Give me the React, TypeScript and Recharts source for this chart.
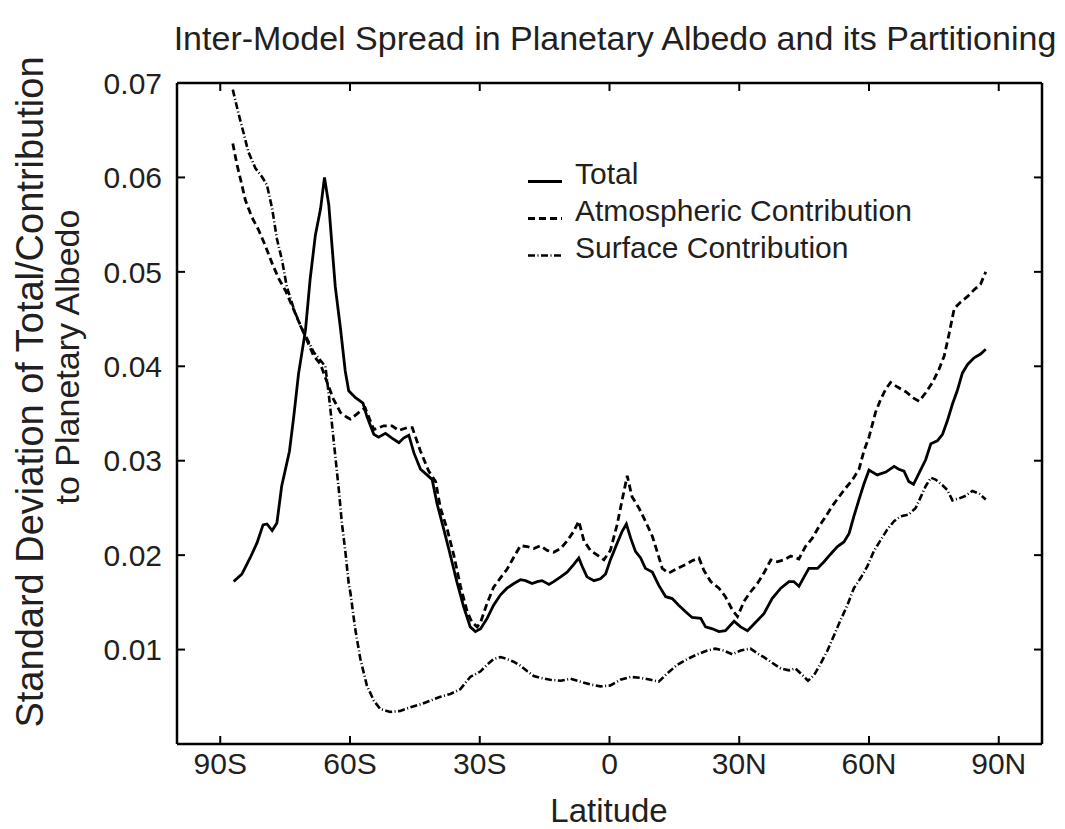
import { LineChart, Line, XAxis, YAxis } from "recharts";

const FONT = '"Liberation Sans", Arial, Helvetica, sans-serif';
const INK = "#231f20";

const xTicks = [-90, -60, -30, 0, 30, 60, 90];
const xTickLabels = ["90S", "60S", "30S", "0", "30N", "60N", "90N"];
const yTicks = [0.01, 0.02, 0.03, 0.04, 0.05, 0.06, 0.07];

// Total
const totalLat = [
  -86.9, -85.0, -83.1, -81.5, -80.1, -79.2, -78.0, -76.9, -75.8, -74.0, -73.0, -71.9, -70.3, -69.2, -68.0,
  -66.8, -65.9, -64.9, -64.2, -63.4, -62.2, -61.1, -60.3, -58.8, -57.0, -56.1, -54.5, -53.4, -51.8, -50.3,
  -48.7, -47.6, -46.4, -45.2, -43.7, -42.2, -41.0, -39.9, -38.3, -36.8, -35.3, -33.7, -32.2, -31.0, -29.8,
  -28.3, -26.8, -25.2, -23.7, -22.1, -20.6, -19.4, -17.9, -16.7, -15.6, -14.0, -12.9, -11.3, -9.8, -8.3,
  -7.1, -6.3, -5.2, -3.6, -2.1, -0.9, 0.2, 1.8, 2.9, 3.9, 4.9, 6.0, 7.2, 8.3, 9.9, 11.4, 13.0, 14.5, 16.0,
  17.6, 19.1, 21.1, 22.2, 23.8, 25.3, 26.8, 28.8, 30.3, 31.9, 33.8, 35.7, 37.6, 39.6, 41.5, 42.6, 43.8,
  45.0, 46.1, 48.1, 49.6, 51.1, 52.7, 54.2, 55.4, 56.5, 57.7, 58.8, 60.0, 61.9, 63.9, 65.8, 66.9, 68.1,
  69.2, 70.3, 71.6, 73.1, 74.3, 75.8, 77.0, 78.1, 79.3, 80.4, 81.6, 82.8, 84.3, 85.8, 87.0,
];
const totalVal = [
  0.0172, 0.018, 0.0197, 0.0213, 0.0232, 0.0233, 0.0226, 0.0234, 0.0273, 0.031, 0.0347, 0.0392, 0.0438, 0.0493, 0.0539,
  0.0567, 0.06, 0.0571, 0.053, 0.0484, 0.044, 0.0395, 0.0374, 0.0367, 0.0361, 0.0347, 0.0328, 0.0325, 0.0329, 0.0324,
  0.0319, 0.0324, 0.0327, 0.0308, 0.0291, 0.0285, 0.028, 0.0255, 0.0227, 0.02, 0.0172, 0.0145, 0.0124, 0.0119, 0.0122,
  0.0133, 0.0147, 0.0158, 0.0165, 0.017, 0.0174, 0.0173, 0.017, 0.0172, 0.0173, 0.0169, 0.0172, 0.0177, 0.0182, 0.019,
  0.0197, 0.0188, 0.0177, 0.0173, 0.0175, 0.018, 0.0195, 0.0213, 0.0225, 0.0233, 0.0218, 0.0204, 0.0197, 0.0186, 0.0182, 0.0168, 0.0156, 0.0154, 0.0147,
  0.014, 0.0134, 0.0133, 0.0124, 0.0122, 0.0119, 0.012, 0.013, 0.0124, 0.012, 0.0129, 0.0138, 0.0154, 0.0165, 0.0172, 0.0172, 0.0167,
  0.0177, 0.0186, 0.0186, 0.0193, 0.0201, 0.0209, 0.0214, 0.0223, 0.0241, 0.0259, 0.0275, 0.029, 0.0285, 0.0288, 0.0294, 0.0291, 0.0289,
  0.0278, 0.0275, 0.0287, 0.0301, 0.0318, 0.0321, 0.0328, 0.0342, 0.036, 0.0374, 0.0393, 0.0402, 0.0409, 0.0413, 0.0418,
];

// Atmospheric contribution
const atmLat = [
  -87.1, -86.2, -85.0, -84.2, -82.7, -81.1, -79.6, -78.0, -76.5, -74.9, -73.4, -71.9, -69.9, -68.4, -66.8,
  -65.3, -63.8, -62.2, -60.7, -59.9, -58.0, -56.5, -54.5, -52.2, -50.3, -48.7, -46.8, -45.6, -43.7, -41.8,
  -40.2, -39.1, -37.5, -36.0, -34.5, -32.9, -31.8, -30.6, -29.8, -28.3, -26.8, -25.2, -23.7, -22.1, -20.6,
  -19.0, -17.5, -16.0, -14.4, -12.9, -11.3, -9.8, -8.3, -7.1, -5.9, -4.4, -2.8, -1.3, 0.2, 1.8, 2.9, 4.1,
  5.2, 6.8, 8.3, 9.9, 11.0, 12.2, 13.7, 15.7, 17.6, 19.1, 20.7, 21.8, 23.4, 25.3, 26.8, 28.4, 29.6, 31.1,
  32.6, 34.2, 35.7, 37.3, 38.8, 40.3, 41.9, 43.8, 45.3, 46.9, 48.4, 50.0, 51.5, 53.1, 54.6, 56.2, 57.7,
  58.8, 60.0, 61.5, 62.7, 63.9, 65.0, 66.6, 68.5, 70.4, 71.6, 73.1, 74.7, 76.2, 77.4, 78.5, 79.7, 81.2,
  82.8, 84.3, 85.8, 87.0,
];
const atmVal = [
  0.0636, 0.0615, 0.0592, 0.0576, 0.0558, 0.0544, 0.0528, 0.0509, 0.0493, 0.048, 0.0464, 0.0448, 0.0427, 0.0411, 0.0402,
  0.0383, 0.0365, 0.0351, 0.0346, 0.0344, 0.0351, 0.0356, 0.0333, 0.0337, 0.0337, 0.0332, 0.0335, 0.0335, 0.031, 0.0289,
  0.0278, 0.025, 0.0227, 0.02, 0.0168, 0.014, 0.0129, 0.0124, 0.0129, 0.0149, 0.0166, 0.0176, 0.0185, 0.0198, 0.021,
  0.0209, 0.0207, 0.021, 0.0205, 0.0203, 0.0207, 0.0215, 0.0225, 0.0236, 0.0215, 0.0205, 0.02, 0.0195, 0.0205, 0.0233, 0.0258, 0.0284,
  0.0262, 0.025, 0.0236, 0.022, 0.0204, 0.0186, 0.0181, 0.0186, 0.019, 0.0194, 0.0197, 0.0184, 0.0172, 0.0165, 0.0156, 0.0142, 0.0135, 0.0151,
  0.0161, 0.017, 0.0181, 0.0195, 0.0193, 0.0195, 0.0199, 0.0196, 0.0209, 0.0218, 0.023, 0.0241, 0.0252, 0.0262, 0.0271, 0.028, 0.0291,
  0.031, 0.0325, 0.0351, 0.0365, 0.0376, 0.0383, 0.0378, 0.0373, 0.0366, 0.0363, 0.0372, 0.0383, 0.0397, 0.0411, 0.0434, 0.0461, 0.0468,
  0.0474, 0.0481, 0.0487, 0.05,
];

// Surface contribution
const sfcLat = [
  -87.1, -85.8, -84.6, -83.5, -81.9, -80.4, -79.2, -78.0, -76.9, -75.7, -74.6, -73.0, -71.5, -69.9, -68.4,
  -66.8, -65.7, -64.9, -64.2, -63.4, -62.6, -61.9, -61.1, -60.3, -59.9, -58.8, -57.6, -56.1, -54.5, -53.0,
  -50.7, -48.4, -46.0, -43.7, -41.4, -39.1, -36.8, -34.5, -32.2, -29.8, -28.3, -26.8, -25.2, -23.7, -22.1,
  -20.6, -19.0, -17.5, -16.0, -13.7, -11.3, -9.0, -6.7, -4.4, -2.1, 0.2, 2.5, 4.9, 7.2, 9.5, 11.4, 13.4,
  15.7, 18.0, 20.3, 22.6, 24.5, 26.4, 28.4, 30.3, 32.6, 34.2, 35.7, 37.6, 39.6, 41.5, 43.0, 44.6, 45.9,
  47.3, 48.8, 50.4, 51.9, 53.4, 55.0, 56.5, 58.1, 59.6, 61.1, 62.7, 64.2, 65.8, 67.3, 69.2, 70.8, 72.0,
  73.1, 74.3, 75.4, 77.0, 78.1, 79.3, 80.8, 82.4, 83.9, 85.5, 87.0,
];
const sfcVal = [
  0.0693, 0.0668, 0.0647, 0.0627, 0.061, 0.0601, 0.0592, 0.0567, 0.0535, 0.0512, 0.0484, 0.0461, 0.0443, 0.0429, 0.0415,
  0.0406, 0.04, 0.037, 0.034, 0.0305, 0.027, 0.0235, 0.0205, 0.017, 0.016, 0.0122, 0.009, 0.0062, 0.0046, 0.0037,
  0.0034, 0.0035, 0.0039, 0.0042, 0.0046, 0.005, 0.0053, 0.0058, 0.0071, 0.0077, 0.0084, 0.009, 0.0092, 0.009, 0.0087,
  0.0083, 0.0077, 0.0072, 0.007, 0.0068, 0.0067, 0.0069, 0.0066, 0.0063, 0.0061, 0.0062, 0.0068, 0.0071, 0.007, 0.0068, 0.0066, 0.0075,
  0.0084, 0.009, 0.0095, 0.0099, 0.0101, 0.0099, 0.0095, 0.0099, 0.0101, 0.0096, 0.0092, 0.0086, 0.008, 0.0078, 0.008, 0.0073, 0.0067,
  0.0073, 0.0085, 0.0099, 0.0115, 0.0131, 0.0147, 0.0165, 0.0176, 0.0188, 0.0204, 0.0216, 0.0227, 0.0236, 0.0241, 0.0243, 0.025, 0.0262,
  0.0273, 0.0282, 0.028, 0.0274, 0.0269, 0.0258, 0.026, 0.0263, 0.0268, 0.0265, 0.0259,
];

const toPoints = (lats: number[], vals: number[]) => lats.map((lat, i) => ({ lat, v: vals[i] }));

const series = [
  { name: "Total", data: toPoints(totalLat, totalVal), dash: undefined as string | undefined, width: 2.8 },
  { name: "Atmospheric Contribution", data: toPoints(atmLat, atmVal), dash: "7 4", width: 2.8 },
  { name: "Surface Contribution", data: toPoints(sfcLat, sfcVal), dash: "7 2.5 1 2.5", width: 2.6 },
];

const NoTick = () => <g />;

// title sits above the top frame
const Title = () => (
  <text x={615} y={50} textAnchor="middle" fontSize={34} fontFamily={FONT} fill={INK}>
    Inter-Model Spread in Planetary Albedo and its Partitioning
  </text>
);

const XTitle = () => (
  <text x={609} y={822} textAnchor="middle" fontSize={33} fontFamily={FONT} fill={INK}>
    Latitude
  </text>
);

const YTitle = () => (
  <g fontFamily={FONT} fill={INK} textAnchor="middle">
    <text transform="translate(43,392) rotate(-90)" fontSize={38}>
      Standard Deviation of Total/Contribution
    </text>
    <text transform="translate(79,357) rotate(-90)" fontSize={34}>
      to Planetary Albedo
    </text>
  </g>
);

// legend drawn inside the plot, upper middle
const LegendBox = () => (
  <g>
    {series.map((s, i) => {
      const base = 184 + i * 37;
      return (
        <g key={s.name}>
          <line x1={528} x2={562} y1={base - 2.5} y2={base - 2.5} stroke="#000" strokeWidth={s.width} strokeDasharray={s.dash} />
          <text x={575} y={base} fontSize={30} fontFamily={FONT} fill={INK}>
            {s.name}
          </text>
        </g>
      );
    })}
  </g>
);

export default function App() {
  return (
    <div style={{ position: "absolute", left: 0, top: 0, width: 1065, height: 829, background: "#fff" }}>
      <LineChart width={1065} height={829} margin={{ top: 82, right: 22, bottom: 0, left: 0 }}>
        <XAxis
          dataKey="lat"
          type="number"
          domain={[-100, 100]}
          ticks={xTicks}
          allowDataOverflow
          height={85}
          tickFormatter={(v: number) => xTickLabels[xTicks.indexOf(v)] ?? ""}
          tick={{ fontSize: 30, fontFamily: FONT, fill: INK }}
          tickSize={-8}
          tickMargin={17}
          axisLine={{ stroke: "#000", strokeWidth: 2.5 }}
          tickLine={{ stroke: "#000", strokeWidth: 2 }}
          label={<XTitle />}
        />
        <XAxis
          xAxisId="top"
          orientation="top"
          dataKey="lat"
          type="number"
          domain={[-100, 100]}
          ticks={xTicks}
          allowDataOverflow
          height={1}
          tick={NoTick}
          tickSize={-8}
          axisLine={{ stroke: "#000", strokeWidth: 2.5 }}
          tickLine={{ stroke: "#000", strokeWidth: 2 }}
          label={<Title />}
        />
        <YAxis
          type="number"
          domain={[0, 0.07]}
          ticks={yTicks}
          allowDataOverflow
          width={177}
          tickFormatter={(v: number) => v.toFixed(2)}
          tick={{ fontSize: 30, fontFamily: FONT, fill: INK }}
          tickSize={-8}
          tickMargin={23}
          axisLine={{ stroke: "#000", strokeWidth: 2.5 }}
          tickLine={{ stroke: "#000", strokeWidth: 2 }}
          label={<YTitle />}
        />
        <YAxis
          yAxisId="right"
          orientation="right"
          type="number"
          domain={[0, 0.07]}
          ticks={yTicks}
          allowDataOverflow
          width={1}
          tick={NoTick}
          tickSize={-8}
          axisLine={{ stroke: "#000", strokeWidth: 2.5 }}
          tickLine={{ stroke: "#000", strokeWidth: 2 }}
          label={<LegendBox />}
        />
        {series.map((s) => (
          <Line
            key={s.name}
            data={s.data}
            dataKey="v"
            name={s.name}
            type="linear"
            dot={false}
            activeDot={false}
            stroke="#000"
            strokeWidth={s.width}
            strokeDasharray={s.dash}
            isAnimationActive={false}
          />
        ))}
      </LineChart>
    </div>
  );
}
